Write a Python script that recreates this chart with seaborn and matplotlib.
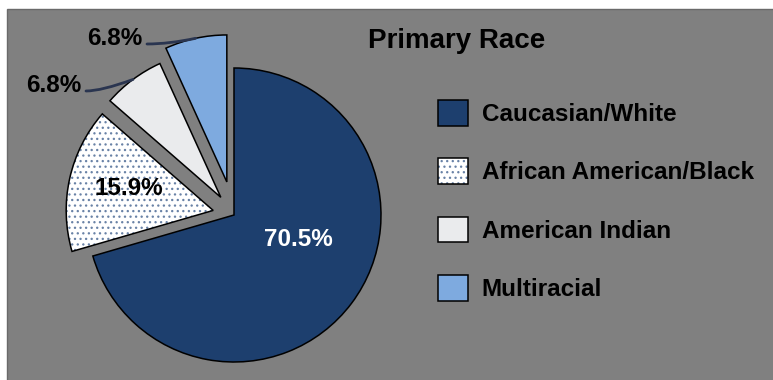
import matplotlib
matplotlib.use("Agg")
import numpy as np
import matplotlib.pyplot as plt
import seaborn as sns
from matplotlib.patches import Patch, Rectangle, Wedge
from matplotlib.legend_handler import HandlerTuple

# ---- data ----
categories = ["Caucasian/White", "African American/Black", "American Indian", "Multiracial"]
values = [70.5, 15.9, 6.8, 6.8]
value_labels = ["70.5%", "15.9%", "6.8%", "6.8%"]
title = "Primary Race"

# ---- style ----
sns.set_style("white")
plt.rcParams['font.family'] = ['Liberation Sans', 'DejaVu Sans']
plt.rcParams['text.color'] = 'black'
plt.rcParams['hatch.linewidth'] = 0.9

W, H = 773, 380
fig = plt.figure(figsize=(W / 100, H / 100), dpi=100)
fig.patch.set_facecolor('white')
fig.patches.append(Rectangle((7 / W, -0.02), 1.1, (H - 9) / H + 0.02,
                             transform=fig.transFigure, facecolor='#808080',
                             edgecolor='#6a6a6a', lw=1.0, zorder=-5))

ax = fig.add_axes([0, 0, 1, 1])
ax.set_facecolor('none')
ax.set_zorder(1)

palette = sns.color_palette(['#1d3f6e', '#ffffff', '#eaebed', '#7eaadf'])
hatch_col = '#6982a6'
R = 147
explode_frac = [0, 0.145, 0.15, 0.23]
cx, cy = 234, H - 215

wedges, _ = ax.pie(values, colors=palette, startangle=90, counterclock=False,
                   explode=[e * R for e in explode_frac], radius=R, center=(cx, cy),
                   wedgeprops=dict(edgecolor='black', linewidth=1.1))

# dotted fill for the second slice: hatch layer + separate black outline
w = wedges[1]
w.set_edgecolor(hatch_col)
w.set_linewidth(0)
w.set_hatch('...')
ax.add_patch(Wedge(w.center, w.r, w.theta1, w.theta2, fill=False,
                   edgecolor='black', linewidth=1.1, zorder=w.get_zorder() + 0.1))

ax.set_xlim(0, W)
ax.set_ylim(0, H)
ax.set_axis_off()

font = dict(weight='bold', size=17.5)

# inner labels (polar placement relative to pie centre)
inner = {0: (-20.5, 0.47, 'white'), 1: (166, 0.74, 'black')}
for i, (ang, d, col) in inner.items():
    a = np.deg2rad(ang)
    ax.text(cx + d * R * np.cos(a), cy + d * R * np.sin(a), value_labels[i],
            ha='center', va='center', color=col, **font)

# outer labels with leader lines
outer = {2: ((81, 92), 20), 3: ((142, 45), 12)}
for i, ((tx, ty), angB) in outer.items():
    wd = wedges[i]
    mid = np.deg2rad((wd.theta1 + wd.theta2) / 2)
    end = (wd.center[0] + wd.r * np.cos(mid), wd.center[1] + wd.r * np.sin(mid))
    ax.text(tx, H - ty, value_labels[i], ha='right', va='baseline', color='black', **font)
    ax.annotate('', xy=end, xytext=(tx + 5, H - ty + 1),
                arrowprops=dict(arrowstyle='-', color='#2a3550', lw=2.0,
                                shrinkA=0, shrinkB=0,
                                connectionstyle=f'angle3,angleA=0,angleB={angB}'))

fig.text(457 / W, 1 - 48 / H, title, ha='center', va='baseline',
         fontsize=20, weight='bold', color='black')

handles = [Patch(facecolor=palette[0], edgecolor='black', lw=1.1),
           (Patch(facecolor='white', edgecolor=hatch_col, hatch='...', lw=0),
            Patch(fill=False, edgecolor='black', lw=1.1)),
           Patch(facecolor=palette[2], edgecolor='black', lw=1.1),
           Patch(facecolor=palette[3], edgecolor='black', lw=1.1)]
leg = ax.legend(handles, categories, loc='upper left',
                bbox_to_anchor=(438 / W, 1 - 100 / H), bbox_transform=fig.transFigure,
                frameon=False, borderpad=0, borderaxespad=0,
                prop=dict(weight='bold', size=17.5), labelcolor='black',
                handlelength=1.25, handleheight=1.25, handletextpad=0.55,
                labelspacing=1.33,
                handler_map={tuple: HandlerTuple(ndivide=1, pad=0)})

fig.savefig('out.png', dpi=100)
